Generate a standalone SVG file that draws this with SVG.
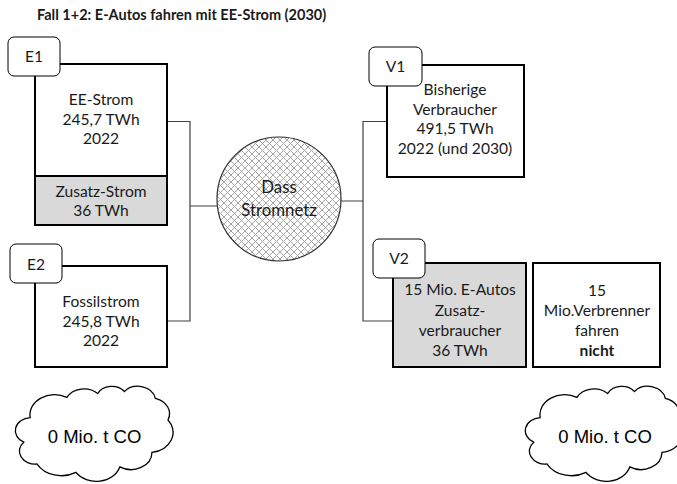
<svg xmlns="http://www.w3.org/2000/svg" width="677" height="484" viewBox="0 0 677 484">
<style>
  .t { font-family: Lato, "Open Sans", sans-serif; font-size: 15.6px; fill: #1a1a1a; text-anchor: middle; }
  .n { font-size: 16.8px; }
  .b { font-weight: bold; }
  .title { font-family: Lato, "Open Sans", sans-serif; font-size: 14.5px; font-weight: bold; fill: #1a1a1a; }
  .box { fill: #ffffff; stroke: #000000; stroke-width: 2; }
  .gray { fill: #d9d9d9; stroke: #000000; stroke-width: 2; }
  .lbl { fill: #ffffff; stroke: #000000; stroke-width: 1; }
  .con { fill: none; stroke: #404040; stroke-width: 1.2; }
  .cloud { fill: #ffffff; stroke: #000000; stroke-width: 1.3; }
  .ct { font-family: "Liberation Sans", Arial, sans-serif; font-size: 18.5px; fill: #000000; text-anchor: middle; }
</style>
<defs>
  <pattern id="hatch" width="7" height="7" patternUnits="userSpaceOnUse">
    <rect width="7" height="7" fill="#ffffff"/>
    <path d="M0,0 L7,7 M7,0 L0,7 M-1,6 L1,8 M6,-1 L8,1 M-1,1 L1,-1 M6,8 L8,6" stroke="#a6a6a6" stroke-width="1"/>
  </pattern>
  <path id="cloudShape" d="M14.17,31.60 A24.54,20.21 0 0 1 50.90,11.44 A19.38,15.98 0 0 1 81.61,7.55 A15.86,13.07 0 0 1 108.43,5.45 A17.65,14.50 0 0 1 139.26,12.26 A19.38,15.99 0 0 1 151.98,33.99 A24.62,20.28 0 0 1 135.94,66.42 A21.02,17.30 0 0 1 103.79,80.95 A24.54,20.26 0 0 1 59.91,86.35 A28.06,23.19 0 0 1 21.10,78.01 A15.85,13.01 0 0 1 7.69,56.18 A15.79,13.07 0 0 1 14.17,31.60 Z"/>
</defs>
<rect width="677" height="484" fill="#ffffff"/>
<text class="title" x="37" y="19.5">Fall 1+2: E-Autos fahren mit EE-Strom (2030)</text>

<g id="connectors">
  <path class="con" d="M167,121.5 H190 V321 H167 M190,206 H217"/>
  <path class="con" d="M341,201 H363 M387,121.5 H363 V321 H393"/>
</g>

<g id="E1">
  <rect class="box" x="35" y="64" width="132" height="112"/>
  <text class="t" x="101" y="105">EE-Strom</text>
  <text class="t" x="101" y="124.5">245,7 TWh</text>
  <text class="t" x="101" y="143.5">2022</text>
  <rect class="gray" x="35" y="176" width="132" height="49"/>
  <text class="t" x="101" y="196.5">Zusatz-Strom</text>
  <text class="t" x="101" y="216">36 TWh</text>
  <rect class="lbl" x="8" y="37" width="52" height="39" rx="6"/>
  <text class="t" x="34" y="62">E1</text>
</g>

<g id="E2">
  <rect class="box" x="35" y="266" width="132" height="101"/>
  <text class="t" x="101" y="306.5">Fossilstrom</text>
  <text class="t" x="101" y="326.5">245,8 TWh</text>
  <text class="t" x="101" y="346">2022</text>
  <rect class="lbl" x="10" y="244" width="52" height="39" rx="6"/>
  <text class="t" x="36" y="269.5">E2</text>
</g>

<g id="netz">
  <circle cx="279" cy="199" r="62" fill="url(#hatch)" stroke="#303030" stroke-width="1.2"/>
  <text class="t n" x="279" y="193">Dass</text>
  <text class="t n" x="279" y="216">Stromnetz</text>
</g>

<g id="V1">
  <rect class="box" x="387" y="65" width="137" height="112"/>
  <text class="t" x="455" y="95">Bisherige</text>
  <text class="t" x="455" y="114.5">Verbraucher</text>
  <text class="t" x="455" y="134">491,5 TWh</text>
  <text class="t" x="455" y="153.5">2022 (und 2030)</text>
  <rect class="lbl" x="369" y="47" width="53" height="39" rx="6"/>
  <text class="t" x="395.5" y="72">V1</text>
</g>

<g id="V2">
  <rect class="gray" x="393" y="263" width="133" height="104"/>
  <text class="t" x="460" y="295">15 Mio. E-Autos</text>
  <text class="t" x="460" y="315.5">Zusatz-</text>
  <text class="t" x="460" y="336">verbraucher</text>
  <text class="t" x="460" y="356">36 TWh</text>
  <rect class="lbl" x="373" y="239" width="52" height="39" rx="6"/>
  <text class="t" x="399" y="263.5">V2</text>
</g>

<g id="Verbrenner">
  <rect class="box" x="533" y="263" width="127" height="104"/>
  <text class="t" x="597" y="296">15</text>
  <text class="t" x="597" y="316">Mio.Verbrenner</text>
  <text class="t" x="597" y="336">fahren</text>
  <text class="t b" x="597" y="356">nicht</text>
</g>

<g id="cloud-left">
  <use href="#cloudShape" class="cloud" transform="translate(16,386)"/>
  <text class="ct" x="94.5" y="443">0 Mio. t CO</text>
</g>

<g id="cloud-right">
  <use href="#cloudShape" class="cloud" transform="translate(526,386)"/>
  <text class="ct" x="605" y="443">0 Mio. t CO</text>
</g>
</svg>
